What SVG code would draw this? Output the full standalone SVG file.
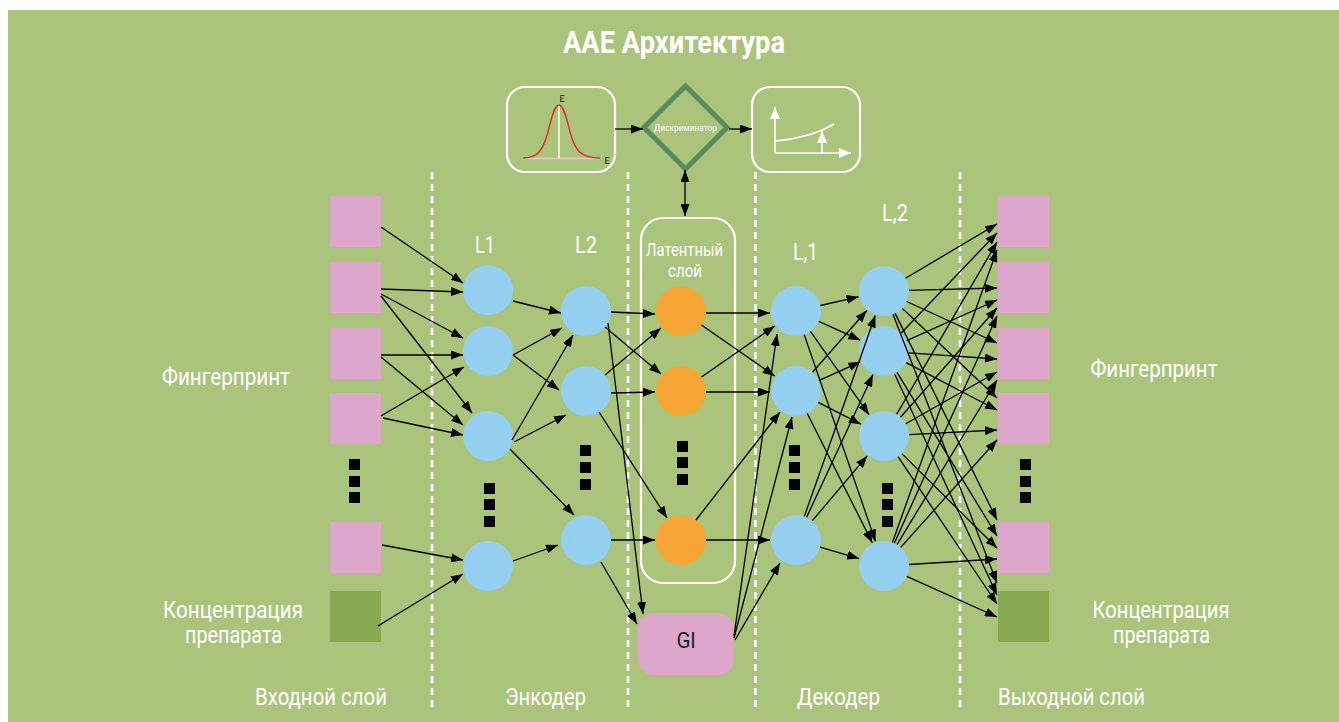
<svg xmlns="http://www.w3.org/2000/svg" width="1339" height="722" viewBox="0 0 1339 722">
<defs>
<marker id="ah" viewBox="0 0 12 9" refX="12" refY="4.5" markerWidth="12" markerHeight="9" markerUnits="userSpaceOnUse" orient="auto-start-reverse"><path d="M0,0 L12,4.5 L0,9 z" fill="#000"/></marker>
<marker id="ahw" viewBox="0 0 12 10" refX="12" refY="5" markerWidth="12" markerHeight="10" markerUnits="userSpaceOnUse" orient="auto"><path d="M0,0 L12,5 L0,10 z" fill="#fff"/></marker>
<style>
.bg{fill:#aac47c}
.sq{fill:#dea6cb}
.sqg{fill:#87a94f}
.nb{fill:#96d0f0}
.no{fill:#f7a535}
.dot{fill:#000}
.sep{stroke:#fff;stroke-width:2.5;stroke-dasharray:7 5;fill:none}
.c{stroke:#000;stroke-width:1.3;fill:none;marker-end:url(#ah)}
.frame{fill:none;stroke:#fff;stroke-width:2.2}
.t{font-family:Roboto,"Liberation Sans",sans-serif;fill:#fff}
.lbl{font-size:23px;text-anchor:middle}
.dk{fill:#1a1a1a}
.ax{stroke:#fff;stroke-width:1.6;fill:none}
</style>
</defs>
<rect x="8" y="10" width="1331" height="712" class="bg"/>
<text class="t" x="674" y="53" font-size="31" font-weight="bold" text-anchor="middle" textLength="222" lengthAdjust="spacingAndGlyphs">AAE Архитектура</text>

<g id="separators">
<line class="sep" x1="432" y1="172" x2="432" y2="712"/>
<line class="sep" x1="628" y1="172" x2="628" y2="712"/>
<line class="sep" x1="755.5" y1="172" x2="755.5" y2="712"/>
<line class="sep" x1="960" y1="172" x2="960" y2="712"/>
</g>

<g id="prior">
<rect class="frame" x="507" y="87" width="108" height="85" rx="18"/>
<line x1="523" y1="158.5" x2="600" y2="158.5" stroke="#f2c8c8" stroke-width="1.6"/>
<line x1="559" y1="105" x2="559" y2="158" stroke="#fff" stroke-width="1.5"/>
<path d="M523,158 C538,158 543,150 548,132 C552,115 555,105 559,105 C563,105 566,115 570,132 C575,150 580,158 600,158" fill="none" stroke="#e52b22" stroke-width="1.4"/>
<text class="t dk" x="562" y="102" font-size="9" text-anchor="middle">E</text>
<text class="t dk" x="607" y="164" font-size="9" text-anchor="middle">E</text>
</g>

<g id="discriminator">
<polygon points="685.5,86 727,127.5 685.5,169 644,127.5" fill="none" stroke="#5b8a62" stroke-width="5"/>
<text class="t" x="685.5" y="130.5" font-size="9.5" text-anchor="middle" textLength="63" lengthAdjust="spacingAndGlyphs">Дискриминатор</text>
</g>

<g id="loss">
<rect class="frame" x="752" y="87" width="108" height="85" rx="18"/>
<line class="ax" x1="775" y1="153" x2="775" y2="107" marker-end="url(#ahw)"/>
<line class="ax" x1="775" y1="153" x2="851" y2="153" marker-end="url(#ahw)"/>
<path class="ax" d="M775,141 Q810,138 834,124"/>
<line class="ax" x1="822" y1="153" x2="822" y2="131" marker-end="url(#ahw)"/>
</g>

<g id="input-layer">
<rect class="sq" x="330" y="196" width="51" height="51"/>
<rect class="sq" x="330" y="262" width="51" height="51"/>
<rect class="sq" x="330" y="328" width="51" height="51"/>
<rect class="sq" x="330" y="393" width="51" height="51"/>
<rect class="dot" x="349" y="459" width="11" height="11"/>
<rect class="dot" x="349" y="476" width="11" height="11"/>
<rect class="dot" x="349" y="492" width="11" height="11"/>
<rect class="sq" x="330" y="522" width="51" height="51"/>
<rect class="sqg" x="330" y="591" width="51" height="51"/>
</g>

<g id="encoder-L1">
<text class="t lbl" x="485" y="253" font-size="24" textLength="20" lengthAdjust="spacingAndGlyphs">L1</text>
<circle class="nb" cx="488" cy="290" r="25"/>
<circle class="nb" cx="488" cy="351" r="25"/>
<circle class="nb" cx="488" cy="436" r="25"/>
<rect class="dot" x="484" y="483" width="11" height="11"/>
<rect class="dot" x="484" y="499" width="11" height="11"/>
<rect class="dot" x="484" y="516" width="11" height="11"/>
<circle class="nb" cx="488" cy="566" r="25"/>
</g>

<g id="encoder-L2">
<text class="t lbl" x="586" y="253" font-size="24" textLength="22" lengthAdjust="spacingAndGlyphs">L2</text>
<circle class="nb" cx="586" cy="311" r="25"/>
<circle class="nb" cx="586" cy="391" r="25"/>
<rect class="dot" x="580" y="445" width="11" height="11"/>
<rect class="dot" x="580" y="462" width="11" height="11"/>
<rect class="dot" x="580" y="479" width="11" height="11"/>
<circle class="nb" cx="586" cy="540" r="25"/>
</g>

<g id="latent">
<rect class="frame" x="641" y="218" width="94" height="365" rx="22" stroke-width="2.5"/>
<text class="t" x="684.5" y="256" font-size="18" text-anchor="middle" textLength="77" lengthAdjust="spacingAndGlyphs">Латентный</text>
<text class="t" x="685" y="277" font-size="18" text-anchor="middle" textLength="34" lengthAdjust="spacingAndGlyphs">слой</text>
<circle class="no" cx="681" cy="311" r="25"/>
<circle class="no" cx="681" cy="391" r="25"/>
<rect class="dot" x="677" y="441" width="11" height="11"/>
<rect class="dot" x="677" y="457" width="11" height="11"/>
<rect class="dot" x="677" y="474" width="11" height="11"/>
<circle class="no" cx="681" cy="540" r="25"/>
</g>

<g id="gl">
<rect class="sq" x="638" y="613" width="96" height="62" rx="16"/>
<text class="t dk" x="686" y="648" font-size="22" text-anchor="middle" textLength="19" lengthAdjust="spacingAndGlyphs">Gl</text>
</g>

<g id="decoder-L1">
<text class="t lbl" x="805.5" y="260" font-size="24" textLength="25" lengthAdjust="spacingAndGlyphs">L,1</text>
<circle class="nb" cx="796" cy="311" r="25"/>
<circle class="nb" cx="796" cy="391" r="25"/>
<rect class="dot" x="789" y="445" width="11" height="11"/>
<rect class="dot" x="789" y="462" width="11" height="11"/>
<rect class="dot" x="789" y="479" width="11" height="11"/>
<circle class="nb" cx="796" cy="540" r="25"/>
</g>

<g id="decoder-L2">
<text class="t lbl" x="895" y="221" font-size="24" textLength="26" lengthAdjust="spacingAndGlyphs">L,2</text>
<circle class="nb" cx="884" cy="291" r="25"/>
<circle class="nb" cx="884" cy="351" r="25"/>
<circle class="nb" cx="884" cy="436" r="25"/>
<rect class="dot" x="882" y="483" width="11" height="11"/>
<rect class="dot" x="882" y="499" width="11" height="11"/>
<rect class="dot" x="882" y="516" width="11" height="11"/>
<circle class="nb" cx="884" cy="566" r="25"/>
</g>

<g id="output-layer">
<rect class="sq" x="998" y="196" width="51" height="51"/>
<rect class="sq" x="998" y="262" width="51" height="51"/>
<rect class="sq" x="998" y="328" width="51" height="51"/>
<rect class="sq" x="998" y="393" width="51" height="51"/>
<rect class="dot" x="1020" y="459" width="11" height="11"/>
<rect class="dot" x="1020" y="476" width="11" height="11"/>
<rect class="dot" x="1020" y="492" width="11" height="11"/>
<rect class="sq" x="998" y="522" width="51" height="51"/>
<rect class="sqg" x="998" y="591" width="51" height="51"/>
</g>

<g id="labels">
<text class="t lbl" x="226" y="385" textLength="128" lengthAdjust="spacingAndGlyphs">Фингерпринт</text>
<text class="t lbl" x="233" y="618" textLength="140" lengthAdjust="spacingAndGlyphs">Концентрация</text>
<text class="t lbl" x="233.5" y="643" textLength="97" lengthAdjust="spacingAndGlyphs">препарата</text>
<text class="t lbl" x="1154" y="377" textLength="127" lengthAdjust="spacingAndGlyphs">Фингерпринт</text>
<text class="t lbl" x="1161" y="618" textLength="137" lengthAdjust="spacingAndGlyphs">Концентрация</text>
<text class="t lbl" x="1161.5" y="643" textLength="97" lengthAdjust="spacingAndGlyphs">препарата</text>
<text class="t lbl" x="321" y="705" textLength="132" lengthAdjust="spacingAndGlyphs">Входной слой</text>
<text class="t lbl" x="545.5" y="705" textLength="81" lengthAdjust="spacingAndGlyphs">Энкодер</text>
<text class="t lbl" x="838.5" y="705" textLength="83" lengthAdjust="spacingAndGlyphs">Декодер</text>
<text class="t lbl" x="1071.5" y="705" textLength="147" lengthAdjust="spacingAndGlyphs">Выходной слой</text>
</g>

<g id="connectors">
<!-- top row -->
<line class="c" x1="615" y1="129" x2="643" y2="129"/>
<line class="c" x1="729" y1="129" x2="752" y2="129"/>
<line class="c" x1="685" y1="170" x2="685" y2="216" marker-start="url(#ah)"/>
<!-- input -> L1 -->
<line class="c" x1="381" y1="227" x2="463" y2="283"/>
<line class="c" x1="381" y1="289" x2="463" y2="292"/>
<line class="c" x1="381" y1="294" x2="463" y2="338"/>
<line class="c" x1="381" y1="296" x2="472" y2="413"/>
<line class="c" x1="381" y1="355" x2="463" y2="355"/>
<line class="c" x1="381" y1="357" x2="463" y2="425"/>
<line class="c" x1="381" y1="416" x2="464" y2="367"/>
<line class="c" x1="383" y1="418" x2="463" y2="435"/>
<line class="c" x1="382" y1="545" x2="463" y2="560"/>
<line class="c" x1="378" y1="626" x2="463" y2="574"/>
<!-- L1 -> L2 -->
<line class="c" x1="513" y1="301" x2="561" y2="313"/>
<line class="c" x1="513" y1="355" x2="562" y2="328"/>
<line class="c" x1="513" y1="355" x2="559" y2="390"/>
<line class="c" x1="512" y1="440" x2="573" y2="335"/>
<line class="c" x1="514" y1="442" x2="566" y2="415"/>
<line class="c" x1="510" y1="449" x2="574" y2="515"/>
<line class="c" x1="513" y1="561" x2="558" y2="545"/>
<!-- L2 -> latent / Gl -->
<line class="c" x1="611" y1="312" x2="655" y2="314"/>
<line class="c" x1="605" y1="327" x2="661" y2="374"/>
<line class="c" x1="605" y1="375" x2="661" y2="328"/>
<line class="c" x1="611" y1="393" x2="655" y2="392"/>
<line class="c" x1="599" y1="412" x2="667" y2="518"/>
<line class="c" x1="611" y1="540" x2="655" y2="540"/>
<line class="c" x1="608" y1="323" x2="643" y2="614"/>
<line class="c" x1="601" y1="562" x2="637" y2="624"/>
<!-- latent / Gl -> L,1 -->
<line class="c" x1="706" y1="313" x2="770" y2="313"/>
<line class="c" x1="701.5" y1="325" x2="774.7" y2="376"/>
<line class="c" x1="701.5" y1="377" x2="774.7" y2="326"/>
<line class="c" x1="706" y1="392" x2="770" y2="392"/>
<line class="c" x1="696" y1="520" x2="780" y2="412"/>
<line class="c" x1="706" y1="540" x2="770" y2="540"/>
<line class="c" x1="734" y1="636" x2="777" y2="334"/>
<line class="c" x1="734" y1="638" x2="792" y2="417"/>
<line class="c" x1="735" y1="640" x2="780" y2="563"/>
<!-- L,1 -> L,2 -->
<line class="c" x1="820.4" y1="305.5" x2="858.6" y2="296.8"/>
<line class="c" x1="818.8" y1="321.3" x2="860.3" y2="340.2"/>
<line class="c" x1="810.4" y1="331.4" x2="869" y2="414.7"/>
<line class="c" x1="804.2" y1="334.6" x2="875.5" y2="541.4"/>
<line class="c" x1="812.5" y1="372.2" x2="866.8" y2="310.5"/>
<line class="c" x1="818.8" y1="380.7" x2="860.3" y2="361.8"/>
<line class="c" x1="818.3" y1="402.4" x2="860.8" y2="424.2"/>
<line class="c" x1="807.2" y1="413.3" x2="872.3" y2="542.8"/>
<line class="c" x1="804.3" y1="516.4" x2="875.3" y2="315.5"/>
<line class="c" x1="806.6" y1="517.3" x2="873" y2="374.6"/>
<line class="c" x1="812.2" y1="520.9" x2="867.2" y2="455.9"/>
<line class="c" x1="820" y1="547.1" x2="859.1" y2="558.6"/>
<!-- L,2 -> output -->
<line class="c" x1="905.5" y1="278.3" x2="997" y2="224"/>
<line class="c" x1="909" y1="290.3" x2="997" y2="288"/>
<line class="c" x1="906.7" y1="301.5" x2="997" y2="343"/>
<line class="c" x1="902.2" y1="308.2" x2="997" y2="398"/>
<line class="c" x1="895.1" y1="313.4" x2="997" y2="520"/>
<line class="c" x1="893" y1="314.3" x2="997" y2="583"/>
<line class="c" x1="901.3" y1="333" x2="997" y2="233"/>
<line class="c" x1="906.8" y1="340.7" x2="997" y2="300"/>
<line class="c" x1="909" y1="352.8" x2="997" y2="359"/>
<line class="c" x1="906.2" y1="362.6" x2="997" y2="410"/>
<line class="c" x1="897" y1="372.3" x2="997" y2="536"/>
<line class="c" x1="894.5" y1="373.7" x2="997" y2="595"/>
<line class="c" x1="896.6" y1="414.4" x2="997" y2="242"/>
<line class="c" x1="900.5" y1="417.3" x2="997" y2="308"/>
<line class="c" x1="905.7" y1="423.7" x2="997" y2="372"/>
<line class="c" x1="909" y1="434.7" x2="997" y2="430"/>
<line class="c" x1="901.8" y1="453.6" x2="997" y2="548"/>
<line class="c" x1="898" y1="456.7" x2="997" y2="604"/>
<line class="c" x1="892.4" y1="542.5" x2="997" y2="250"/>
<line class="c" x1="894.3" y1="543.2" x2="997" y2="316"/>
<line class="c" x1="897" y1="544.6" x2="997" y2="380"/>
<line class="c" x1="900.7" y1="547.4" x2="997" y2="440"/>
<line class="c" x1="909" y1="564.5" x2="997" y2="559"/>
<line class="c" x1="906.8" y1="576.3" x2="997" y2="617"/>
</g>
</svg>
